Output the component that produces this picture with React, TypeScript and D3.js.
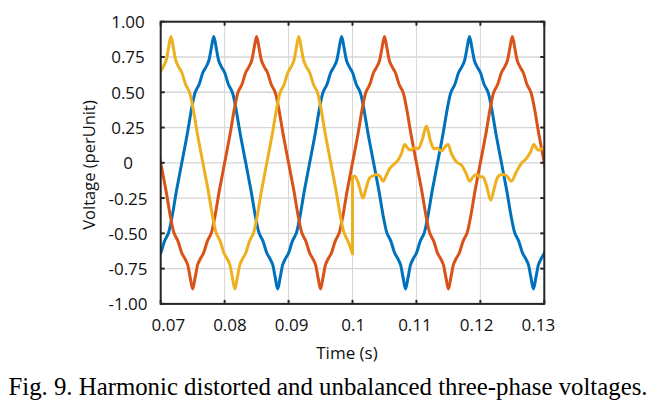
import React from "react";
import * as d3 from "d3";

// time in ms, voltage in per unit
const phaseA: [number, number][] = [
  [67.9,-0.81],[68.3,-0.895],[68.7,-0.81],[69.1,-0.72],[69.5,-0.68],[70.0,-0.64],[70.6,-0.555],[71.2,-0.50],[71.7,-0.40],[72.5,-0.19],[73.3,0],
  [74.1,0.19],[74.9,0.40],[75.4,0.50],[76.0,0.555],[76.6,0.64],[77.1,0.68],[77.5,0.72],[77.9,0.81],[78.3,0.895],[78.7,0.81],[79.1,0.72],[79.5,0.68],[80.0,0.64],[80.6,0.555],[81.2,0.50],[81.7,0.40],[82.5,0.19],[83.3,0],
  [84.1,-0.19],[84.9,-0.40],[85.4,-0.50],[86.0,-0.555],[86.6,-0.64],[87.1,-0.68],[87.5,-0.72],[87.9,-0.81],[88.3,-0.895],[88.7,-0.81],[89.1,-0.72],[89.5,-0.68],[90.0,-0.64],[90.6,-0.555],[91.2,-0.50],[91.7,-0.40],[92.5,-0.19],[93.3,0],
  [94.1,0.19],[94.9,0.40],[95.4,0.50],[96.0,0.555],[96.6,0.64],[97.1,0.68],[97.5,0.72],[97.9,0.81],[98.3,0.895],[98.7,0.81],[99.1,0.72],[99.5,0.68],[100.0,0.64],[100.6,0.555],[101.2,0.50],[101.7,0.40],[102.5,0.19],[103.3,0],
  [104.1,-0.19],[104.9,-0.40],[105.4,-0.50],[106.0,-0.555],[106.6,-0.64],[107.1,-0.68],[107.5,-0.72],[107.9,-0.81],[108.3,-0.895],[108.7,-0.81],[109.1,-0.72],[109.5,-0.68],[110.0,-0.64],[110.6,-0.555],[111.2,-0.50],[111.7,-0.40],[112.5,-0.19],[113.3,0],
  [114.1,0.19],[114.9,0.40],[115.4,0.50],[116.0,0.555],[116.6,0.64],[117.1,0.68],[117.5,0.72],[117.9,0.81],[118.3,0.895],[118.7,0.81],[119.1,0.72],[119.5,0.68],[120.0,0.64],[120.6,0.555],[121.2,0.50],[121.7,0.40],[122.5,0.19],[123.3,0],
  [124.1,-0.19],[124.9,-0.40],[125.4,-0.50],[126.0,-0.555],[126.6,-0.64],[127.1,-0.68],[127.5,-0.72],[127.9,-0.81],[128.3,-0.895],[128.7,-0.81],[129.1,-0.72],[129.5,-0.68],[130.0,-0.64],[130.6,-0.555],
];

const phaseB: [number, number][] = [
  [66.2,0.68],[66.7,0.64],[67.3,0.555],[67.9,0.50],[68.4,0.40],[69.2,0.19],[70.0,0],
  [70.8,-0.19],[71.6,-0.40],[72.1,-0.50],[72.7,-0.555],[73.3,-0.64],[73.8,-0.68],[74.2,-0.72],[74.6,-0.81],[75.0,-0.895],[75.4,-0.81],[75.8,-0.72],[76.2,-0.68],[76.7,-0.64],[77.3,-0.555],[77.9,-0.50],[78.4,-0.40],[79.2,-0.19],[80.0,0],
  [80.8,0.19],[81.6,0.40],[82.1,0.50],[82.7,0.555],[83.3,0.64],[83.8,0.68],[84.2,0.72],[84.6,0.81],[85.0,0.895],[85.4,0.81],[85.8,0.72],[86.2,0.68],[86.7,0.64],[87.3,0.555],[87.9,0.50],[88.4,0.40],[89.2,0.19],[90.0,0],
  [90.8,-0.19],[91.6,-0.40],[92.1,-0.50],[92.7,-0.555],[93.3,-0.64],[93.8,-0.68],[94.2,-0.72],[94.6,-0.81],[95.0,-0.895],[95.4,-0.81],[95.8,-0.72],[96.2,-0.68],[96.7,-0.64],[97.3,-0.555],[97.9,-0.50],[98.4,-0.40],[99.2,-0.19],[100.0,0],
  [100.8,0.19],[101.6,0.40],[102.1,0.50],[102.7,0.555],[103.3,0.64],[103.8,0.68],[104.2,0.72],[104.6,0.81],[105.0,0.895],[105.4,0.81],[105.8,0.72],[106.2,0.68],[106.7,0.64],[107.3,0.555],[107.9,0.50],[108.4,0.40],[109.2,0.19],[110.0,0],
  [110.8,-0.19],[111.6,-0.40],[112.1,-0.50],[112.7,-0.555],[113.3,-0.64],[113.8,-0.68],[114.2,-0.72],[114.6,-0.81],[115.0,-0.895],[115.4,-0.81],[115.8,-0.72],[116.2,-0.68],[116.7,-0.64],[117.3,-0.555],[117.9,-0.50],[118.4,-0.40],[119.2,-0.19],[120.0,0],
  [120.8,0.19],[121.6,0.40],[122.1,0.50],[122.7,0.555],[123.3,0.64],[123.8,0.68],[124.2,0.72],[124.6,0.81],[125.0,0.895],[125.4,0.81],[125.8,0.72],[126.2,0.68],[126.7,0.64],[127.3,0.555],[127.9,0.50],[128.4,0.40],[129.2,0.19],[130.0,0],[130.8,-0.19],
];

const phaseCPre: [number, number][] = [
  [66.6,0],[67.4,0.19],[68.2,0.40],[68.7,0.50],[69.3,0.555],[69.9,0.64],[70.4,0.68],[70.8,0.72],[71.2,0.81],[71.6,0.895],[72.0,0.81],[72.4,0.72],[72.8,0.68],[73.3,0.64],[73.9,0.555],[74.5,0.50],[75.0,0.40],[75.8,0.19],[76.6,0],
  [77.4,-0.19],[78.2,-0.40],[78.7,-0.50],[79.3,-0.555],[79.9,-0.64],[80.4,-0.68],[80.8,-0.72],[81.2,-0.81],[81.6,-0.895],[82.0,-0.81],[82.4,-0.72],[82.8,-0.68],[83.3,-0.64],[83.9,-0.555],[84.5,-0.50],[85.0,-0.40],[85.8,-0.19],[86.6,0],
  [87.4,0.19],[88.2,0.40],[88.7,0.50],[89.3,0.555],[89.9,0.64],[90.4,0.68],[90.8,0.72],[91.2,0.81],[91.6,0.895],[92.0,0.81],[92.4,0.72],[92.8,0.68],[93.3,0.64],[93.9,0.555],[94.5,0.50],[95.0,0.40],[95.8,0.19],[96.6,0],
  [97.4,-0.19],[98.2,-0.40],[98.7,-0.50],[99.3,-0.555],[100.0,-0.645],
];

const phaseCPost: [number, number][] = [
  [100.0,-0.10],[100.36,-0.095],[100.8,-0.13],[101.14,-0.18],[101.62,-0.25],[102.19,-0.17],[102.7,-0.106],[103.22,-0.092],[103.75,-0.083],[104.27,-0.095],[104.78,-0.13],[105.31,-0.087],[105.83,-0.04],[106.61,-0.005],[107.13,0.019],[107.66,0.066],[108.17,0.13],[108.69,0.10],[109.11,0.09],[109.73,0.107],[110.25,0.10],[110.88,0.16],[111.56,0.26],[112.23,0.149],[112.75,0.10],[113.28,0.105],[113.91,0.083],[114.42,0.11],[114.94,0.13],[115.47,0.066],[116.25,0.007],[117.03,-0.016],[117.66,-0.064],[118.33,-0.13],[118.84,-0.099],[119.38,-0.083],[119.89,-0.099],[120.41,-0.10],[120.94,-0.158],[121.61,-0.265],[122.23,-0.17],[122.75,-0.099],[123.28,-0.083],[124.06,-0.09],[124.84,-0.13],[125.63,-0.064],[126.41,-0.005],[127.19,0.03],[127.86,0.078],[128.38,0.13],[129.0,0.09],[129.63,0.10],[130.05,0.105],
];

const xTicks = [0.07, 0.08, 0.09, 0.1, 0.11, 0.12, 0.13];
const xTickLabels = ["0.07", "0.08", "0.09", "0.1", "0.11", "0.12", "0.13"];
const yTicks = [1, 0.75, 0.5, 0.25, 0, -0.25, -0.5, -0.75, -1];
const yTickLabels = ["1.00", "0.75", "0.50", "0.25", "0", "-0.25", "-0.50", "-0.75", "-1.00"];

const colors = { a: "#0072BD", b: "#D95319", c: "#EDB120" };

export default function App() {
  const left = 160.7, right = 544.3, top = 21.7, bottom = 303.9;
  const x = d3.scaleLinear().domain([0.07, 0.13]).range([left, right]);
  const xLab = d3.scaleLinear().domain([0.07, 0.13]).range([168.3, 538.3]);
  const y = d3.scaleLinear().domain([-1, 1]).range([bottom, top]);
  const line = d3
    .line<[number, number]>()
    .x((d) => x(d[0] / 1000))
    .y((d) => y(d[1]))
    .curve(d3.curveCatmullRom.alpha(0.5));
  const sans = "'Open Sans', sans-serif";
  const jumpT = phaseCPre[phaseCPre.length - 1][0];
  const jumpFrom = phaseCPre[phaseCPre.length - 1][1];
  const jumpTo = phaseCPost[0][1];
  const tick = 4;
  return (
    <svg
      width={656}
      height={412}
      style={{ position: "absolute", left: 0, top: 0, background: "#fff" }}
    >
      <defs>
        <clipPath id="plot">
          <rect x={left} y={top - 5} width={right - left} height={bottom - top + 10} />
        </clipPath>
      </defs>
      <rect x={0} y={0} width={656} height={412} fill="#fff" />
      {/* grid */}
      {xTicks.map((t) => (
        <line key={"gx" + t} x1={x(t)} x2={x(t)} y1={top} y2={bottom} stroke="#d6d6d6" strokeWidth={1} />
      ))}
      {yTicks.map((t) => (
        <line key={"gy" + t} x1={left} x2={right} y1={y(t)} y2={y(t)} stroke="#d6d6d6" strokeWidth={1.3} />
      ))}
      {/* series */}
      <g clipPath="url(#plot)" fill="none" strokeWidth={3} strokeLinejoin="round" strokeLinecap="round">
        <path d={line(phaseA) || ""} stroke={colors.a} />
        <path d={line(phaseB) || ""} stroke={colors.b} />
        <path d={line(phaseCPre) || ""} stroke={colors.c} />
        <line x1={x(jumpT / 1000)} x2={x(jumpT / 1000)} y1={y(jumpFrom)} y2={y(jumpTo)} stroke={colors.c} />
        <path d={line(phaseCPost) || ""} stroke={colors.c} />
      </g>
      {/* box and ticks */}
      <g stroke="#262626" strokeWidth={2} fill="none">
        <rect x={left} y={top} width={right - left} height={bottom - top} />
        {xTicks.map((t) => (
          <g key={"tx" + t}>
            <line x1={x(t)} x2={x(t)} y1={bottom} y2={bottom - tick} />
            <line x1={x(t)} x2={x(t)} y1={top} y2={top + tick} />
          </g>
        ))}
        {yTicks.map((t) => (
          <g key={"ty" + t}>
            <line x1={left} x2={left + tick} y1={y(t)} y2={y(t)} />
            <line x1={right} x2={right - tick} y1={y(t)} y2={y(t)} />
          </g>
        ))}
      </g>
      {/* tick labels */}
      <g fontFamily={sans} fontSize={17} fill="#111">
        {xTicks.map((t, i) => (
          <text key={"lx" + t} x={xLab(t)} y={331} textAnchor="middle">
            {xTickLabels[i]}
          </text>
        ))}
        {yTicks.map((t, i) => (
          <text key={"ly" + t} x={128} y={y(t) + 6.5} textAnchor="middle">
            {yTickLabels[i]}
          </text>
        ))}
        <text x={347} y={359} textAnchor="middle">Time (s)</text>
        <text transform="translate(95,165) rotate(-90)" textAnchor="middle" fontSize={16.5}>Voltage (perUnit)</text>
      </g>
      <text x={328} y={395} textAnchor="middle" fontFamily="'Liberation Serif', 'Times New Roman', serif" fontSize={24.8} fill="#000">
        Fig. 9. Harmonic distorted and unbalanced three-phase voltages.
      </text>
    </svg>
  );
}
